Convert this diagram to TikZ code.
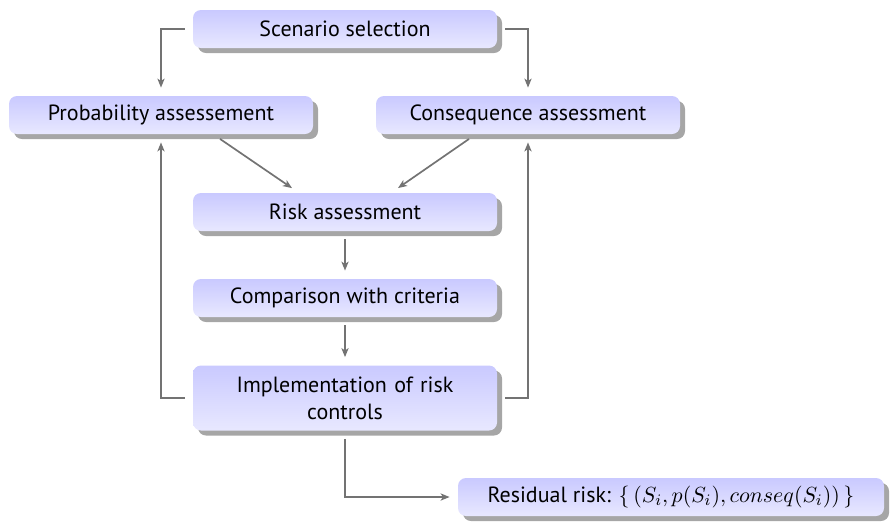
\documentclass[tikz,border=0pt]{standalone}
\usepackage{fontspec}
\setmainfont{PT Sans}
\usetikzlibrary{shadows,arrows.meta,calc}
\begin{document}
\begin{tikzpicture}[x=0.5pt,y=-0.5pt,
  stepbox/.style={rectangle, rounded corners=4pt, minimum width=152pt, minimum height=19pt,
    top color=blue!21, bottom color=blue!9, draw=none, align=center, font=\fontsize{11}{13.5}\selectfont,
    drop shadow={shadow xshift=2.5pt, shadow yshift=-2.5pt, fill=gray!70, opacity=1}},
  link/.style={draw=black!55, line width=0.85pt, shorten <=4pt, shorten >=4pt,
    -{Stealth[length=4.5pt,width=3.6pt,inset=1.2pt]}}]
\useasboundingbox (0,0) rectangle (893,526);

\node[stepbox] (scen) at (345,29) {Scenario selection};
\node[stepbox] (prob) at (161,115) {Probability assessement};
\node[stepbox] (cons) at (528,115) {Consequence assessment};
\node[stepbox] (risk) at (345,212) {Risk assessment};
\node[stepbox] (comp) at (345,298) {Comparison with criteria};
\node[stepbox, minimum height=32.5pt, text width=135pt] (impl) at (345,398) {Implementation of risk\\controls};
\node[stepbox, minimum width=213pt] (resid) at (671,497) {Residual risk: $\{\,(S_i,p(S_i),conseq(S_i))\,\}$};

\draw[link] (scen.west) -| (prob.north);
\draw[link] (scen.east) -| (cons.north);
\draw[link] ([xshift=-50pt]prob.south east) -- ([xshift=53pt]risk.north west);
\draw[link] ([xshift=50pt]cons.south west) -- ([xshift=-53pt]risk.north east);
\draw[link] (risk.south) -- (comp.north);
\draw[link] (comp.south) -- (impl.north);
\draw[link] (impl.west) -| (prob.south);
\draw[link] (impl.east) -| (cons.south);
\draw[link] (impl.south) |- (resid.west);
\end{tikzpicture}
\end{document}
